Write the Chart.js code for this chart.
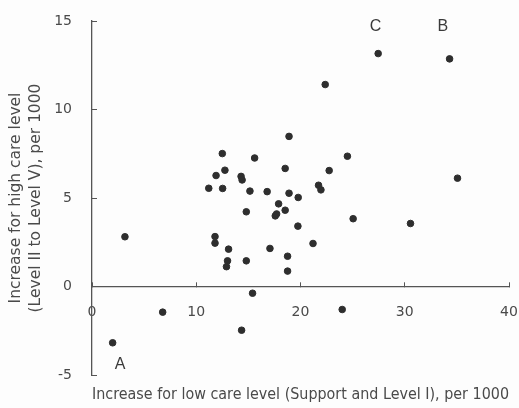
<!DOCTYPE html>
<html>
<head>
<meta charset="utf-8">
<script src="https://cdn.jsdelivr.net/npm/chart.js@4/dist/chart.umd.min.js"></script>
<style>
  html, body { margin: 0; padding: 0; background: #fdfdfd; }
  #wrap { width: 519px; height: 408px; }
</style>
</head>
<body>
<div id="wrap"><canvas id="chart" width="519" height="408"></canvas></div>
<script>
const $ = (s) => document.querySelector(s);

// low care increase (x) and high care increase (y), per 1000
const lowCare = [
  1.98, 3.16, 6.78, 11.2, 11.8, 11.8, 11.9, 12.5, 12.53, 12.75,
  13.1, 13.0, 12.9, 14.3, 14.4, 14.35, 14.8, 14.8, 15.15, 15.4,
  15.6, 16.8, 17.07, 17.58, 17.71, 17.9, 18.53, 18.53, 18.76, 18.76,
  18.9, 18.9, 19.75, 19.78, 21.2, 21.73, 21.96, 22.37, 22.75, 24.0,
  24.5, 25.05, 27.45, 30.55, 34.3, 35.06,
];
const highCare = [
  -3.18, 2.81, -1.45, 5.55, 2.82, 2.45, 6.27, 7.51, 5.54, 6.57,
  2.11, 1.45, 1.12, 6.22, 6.02, -2.47, 4.22, 1.45, 5.39, -0.38,
  7.26, 5.36, 2.15, 3.99, 4.1, 4.67, 6.67, 4.31, 1.71, 0.87,
  8.48, 5.27, 3.41, 5.03, 2.43, 5.72, 5.46, 11.41, 6.55, -1.3,
  7.36, 3.83, 13.16, 3.56, 12.86, 6.12,
];

// marked regions
const markLabels = ["A", "B", "C"];
const markX = [2.69, 33.65, 27.2];
const markY = [-4.4, 14.7, 14.7];

const xTicks = [0, 10, 20, 30, 40];
const yTicks = [-5, 0, 5, 10, 15];

const ink = "#4a4a4a";
// the scanned type runs wide, DejaVu gets closer to its width than Arial
const font = "'DejaVu Sans', sans-serif";

const markPlugin = {
  id: "marks",
  afterDatasetsDraw(chart) {
    const { ctx, scales } = chart;
    ctx.save();
    ctx.fillStyle = "#3a3a3a";
    ctx.font = "16px Arial, 'Liberation Sans', sans-serif";
    ctx.textAlign = "center";
    ctx.textBaseline = "middle";
    markLabels.forEach((t, i) => {
      ctx.fillText(t, scales.x.getPixelForValue(markX[i]), scales.y.getPixelForValue(markY[i]));
    });
    ctx.restore();
  },
};

new Chart($("#chart"), {
  type: "scatter",
  data: {
    datasets: [
      {
        data: lowCare.map((x, i) => ({ x, y: highCare[i] })),
        backgroundColor: "#2e2e2e",
        borderColor: "#2e2e2e",
        pointRadius: 3.3,
        pointHoverRadius: 3.3,
      },
    ],
  },
  options: {
    responsive: false,
    animation: false,
    events: [],
    layout: { padding: { top: 21, right: 10, bottom: 0, left: 0 } },
    plugins: {
      legend: { display: false },
      tooltip: { enabled: false },
      title: {
        display: true,
        position: "bottom",
        fullSize: false,
        text: "Increase for low care level (Support and Level I), per 1000",
        color: ink,
        font: { family: font, size: 15, weight: "normal", lineHeight: 1.2 },
        padding: { top: 11, bottom: 4 },
      },
    },
    scales: {
      x: {
        type: "linear",
        position: { y: 0 },
        min: 0,
        max: 40,
        afterBuildTicks: (s) => { s.ticks = xTicks.map((v) => ({ value: v })); },
        afterFit: (s) => { s.paddingLeft = 0; s.paddingRight = 0; },
        ticks: { color: ink, padding: 22, font: { family: font, size: 14 } },
        grid: { drawOnChartArea: false, drawTicks: true, tickLength: -5, color: "#555" },
        border: { color: "#555", width: 1.3 },
      },
      y: {
        type: "linear",
        min: -5,
        max: 15,
        afterBuildTicks: (s) => { s.ticks = yTicks.map((v) => ({ value: v })); },
        afterFit: (s) => { s.width = 92; s.paddingTop = 0; s.paddingBottom = 0; },
        ticks: { color: ink, padding: 25, font: { family: font, size: 14 } },
        grid: { drawOnChartArea: false, drawTicks: true, tickLength: -5, color: "#555" },
        border: { color: "#555", width: 1.3 },
        title: {
          display: true,
          text: ["Increase for high care level", "(Level II to Level V), per 1000"],
          color: ink,
          font: { family: font, size: 15.5, lineHeight: 1.3 },
          padding: { top: 6, bottom: 0 },
        },
      },
    },
  },
  plugins: [markPlugin],
});
</script>
</body>
</html>
